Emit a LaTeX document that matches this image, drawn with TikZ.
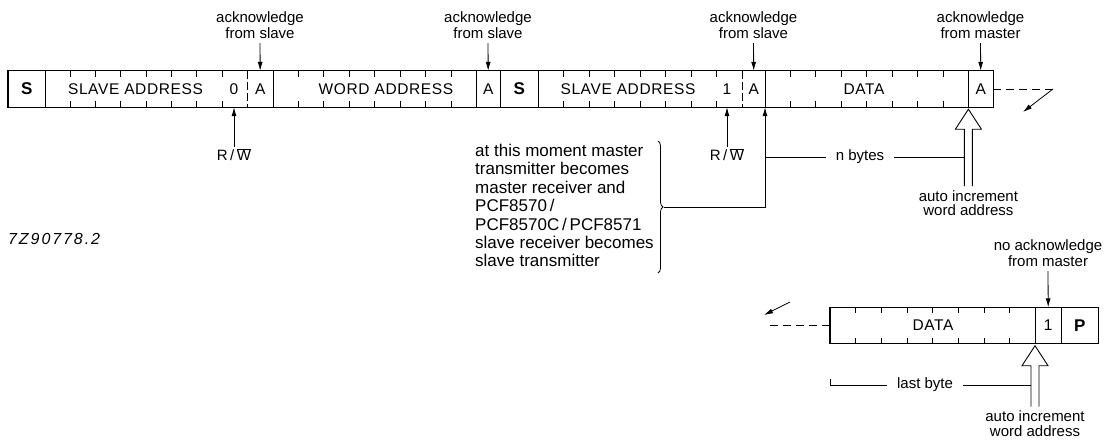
\documentclass[tikz,border=0pt]{standalone}
\usepackage{fontspec}
\setmainfont{Liberation Sans}
\usetikzlibrary{arrows.meta,calc,decorations.pathreplacing}
\begin{document}
\begin{tikzpicture}[x=1pt,y=-1pt,
  fld/.style={minimum height=36pt, inner sep=0pt, anchor=west, font=\fontsize{15.5}{16}\selectfont\addfontfeature{LetterSpace=4}},
  txt/.style={inner sep=0pt, font=\fontsize{15.5}{16}\selectfont\addfontfeature{LetterSpace=4}},
  boldtxt/.style={font=\fontsize{17}{18}\selectfont\bfseries},
  bar/.style={line width=1.3pt},
  sep/.style={line width=1.1pt},
  dsep/.style={line width=0.9pt, dash pattern=on 8pt off 3pt},
  tick/.style={line width=0.9pt},
  arr/.style={line width=0.8pt, -{Latex[length=9pt,width=5pt]}},
  thinl/.style={line width=0.8pt},
  lbl/.style={font=\fontsize{15}{16}\selectfont, align=center, inner sep=1pt},
  lblb/.style={font=\fontsize{15}{14.5}\selectfont, align=center, inner sep=1pt},
  brtxt/.style={font=\fontsize{17}{18.4}\selectfont, align=left, inner sep=1pt},
  hol/.style={line width=0.9pt, line join=miter},
  dsh/.style={line width=0.9pt, dash pattern=on 8pt off 5pt},
]
\useasboundingbox (0,0) rectangle (1119,445);

% ---------- top frame ----------
\node[fld, minimum width=37pt, boldtxt] (s1) at (8,89) {S};
\node[fld, minimum width=202pt] (sa1) at (45,89) {};
\node[txt] (sa1t) at (135.5,89) {SLAVE ADDRESS};
\node[txt] (sa1b) at (234,89) {0};
\node[fld, minimum width=26pt] (a1) at (247,89) {A};
\node[fld, minimum width=203pt] (wa) at (273,89) {};
\node[txt] (wat) at (386,89) {WORD ADDRESS};
\node[fld, minimum width=24pt] (a2) at (476,89) {A};
\node[fld, minimum width=38pt, boldtxt] (s2) at (500,89) {S};
\node[fld, minimum width=204pt] (sa2) at (538,89) {};
\node[txt] (sa2t) at (628,89) {SLAVE ADDRESS};
\node[txt] (sa2b) at (727,89) {1};
\node[fld, minimum width=23pt] (a3) at (742,89) {A};
\node[fld, minimum width=203pt] (d1) at (765,89) {};
\node[txt] (d1t) at (864,89) {DATA};
\node[fld, minimum width=25pt] (a4) at (968,89) {A};

\draw[bar] (s1.north west) rectangle (a4.south east);
\foreach \n in {s1,a1,wa,a2,s2,a3,d1}
  \draw[sep] (\n.north east) -- (\n.south east);
\foreach \n in {sa1,sa2}
  \draw[dsep] (\n.north east) -- (\n.south east);
\foreach \n in {sa1,wa,sa2,d1}
  \foreach \k in {1,...,7} {
    \draw[tick] ($(\n.north west)!\k/8!(\n.north east)$) -- ++(0,6);
    \draw[tick] ($(\n.south west)!\k/8!(\n.south east)$) -- ++(0,-6);
  }

% ---------- bottom frame ----------
\node[fld, minimum width=205pt] (d2) at (830,325.5) {};
\node[txt] (d2t) at (933,325.5) {DATA};
\node[fld, minimum width=26pt] (b1) at (1035,325.5) {1};
\node[fld, minimum width=37pt, boldtxt] (p1) at (1061,325.5) {P};
\draw[bar] (d2.north west) rectangle (p1.south east);
\foreach \n in {d2,b1}
  \draw[sep] (\n.north east) -- (\n.south east);
\foreach \k in {1,...,7} {
  \draw[tick] ($(d2.north west)!\k/8!(d2.north east)$) -- ++(0,6);
  \draw[tick] ($(d2.south west)!\k/8!(d2.south east)$) -- ++(0,-6);
}

% ---------- acknowledge labels ----------
\node[lbl, anchor=south] (ack1) at (260,40) {acknowledge\\from slave};
\node[lbl, anchor=south] (ack2) at (488,40) {acknowledge\\from slave};
\node[lbl, anchor=south] (ack3) at (753.5,40) {acknowledge\\from slave};
\node[lbl, anchor=south] (ack4) at (980.5,40) {acknowledge\\from master};
\node[lbl, anchor=south] (nack) at (1048,268) {no acknowledge\\from master};
\draw[arr, shorten <=3pt] (ack1.south) -- (a1.north);
\draw[arr, shorten <=3pt] (ack2.south) -- (a2.north);
\draw[arr, shorten <=3pt] (ack3.south) -- (a3.north);
\draw[arr, shorten <=3pt] (ack4.south) -- (a4.north);
\draw[arr, shorten <=3pt] (nack.south) -- (b1.north);

% ---------- R/W ----------
\node[lbl, anchor=north] (rw1) at (234,147) {R\,/\,$\overline{\hbox{W}}$};
\node[lbl, anchor=north] (rw2) at (727,147) {R\,/\,$\overline{\hbox{W}}$};
\draw[arr] (rw1.north) -- (rw1.north |- sa1.south);
\draw[arr] (rw2.north) -- (rw2.north |- sa2.south);

% ---------- brace text ----------
\node[brtxt, anchor=north west] (bt) at (474,143) {at this moment master\\transmitter becomes\\master receiver and\\PCF8570\,/\\PCF8570C\,/\,PCF8571\\slave receiver becomes\\slave transmitter};
\draw[thinl, decorate, decoration={brace, amplitude=5pt}] (658,141) -- (658,273);
\coordinate (btip) at (664,207);
\draw[arr] (btip) -- (btip -| d1.south west) -- (d1.south west);

% ---------- hollow arrows ----------
\coordinate (h1) at ($(d1.south east)+(0,2)$);
\draw[hol] ($(h1)+(-4,77)$) -- ++(0,-57) -- ++(-9,0) -- (h1) -- ++(13,20) -- ++(-9,0) -- ++(0,57);
\coordinate (hl1) at ($(h1)+(-4,40)$);
\node[lblb, anchor=north] (ai1) at ($(h1)+(0,80)$) {auto increment\\word address};

\coordinate (h2) at ($(b1.south west)+(0,2)$);
\draw[hol] ($(h2)+(-4,61)$) -- ++(0,-41) -- ++(-9,0) -- (h2) -- ++(13,20) -- ++(-9,0) -- ++(0,41);
\coordinate (hl2) at ($(h2)+(-4,30)$);
\node[lblb, anchor=north] (ai2) at ($(h2)+(0,64)$) {auto increment\\word address};

% ---------- n bytes / last byte ----------
\node[lbl, inner xsep=10pt] (nb) at (860,157) {n bytes};
\draw[thinl] (nb.west) -- (nb.west -| d1.west);
\draw[thinl] (nb.east) -- (nb.east -| hl1);
\node[lbl, inner xsep=10pt] (lb) at (925,385) {last byte};
\draw[thinl] (lb.west) -- (lb.west -| d2.west) -- ++(0,-6);
\draw[thinl] (lb.east) -- (lb.east -| hl2);

% ---------- continuation ----------
\coordinate (c1) at (1053,89);
\draw[dsh] (a4.east) -- (c1);
\draw[arr] (c1) -- ++(-30,23);
\coordinate (c2) at (769,325.5);
\coordinate (c3) at (790,302);
\draw[dsh] (d2.west) -- (c2);
\draw[arr] (c3) -- ++(-26,13);

% ---------- figure code ----------
\node[anchor=west, inner sep=0pt, font=\fontsize{16}{17}\selectfont\itshape\addfontfeature{LetterSpace=12}] (fig) at (8,239) {7Z90778.2};
\end{tikzpicture}
\end{document}
